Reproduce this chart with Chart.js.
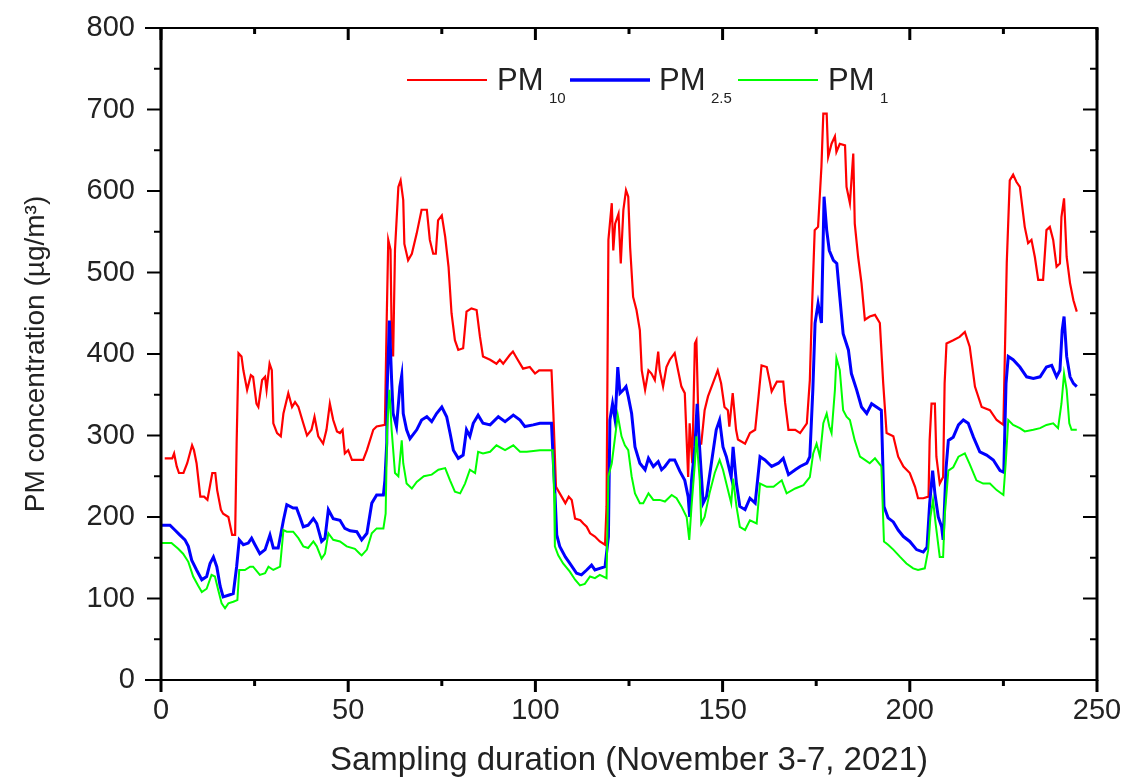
<!DOCTYPE html>
<html lang="en">
<head>
<meta charset="UTF-8">
<title>PM concentration</title>
<script src="https://cdn.jsdelivr.net/npm/chart.js@4.4.0/dist/chart.umd.js"></script>
<style>
    body { margin: 0; background: #fff; }
    #wrap { width: 1131px; height: 781px; }
</style>
</head>
<body>
<div id="wrap"><canvas id="pmChart" width="1131" height="781"></canvas></div>
<script>
// values as [sampling step, concentration]
const pm10 = [[1,272],[3,272],[3.5,278],[4.2,262],[4.8,254],[6,254],[7,266],[8.3,288],[8.8,282],[9.5,266],[10.5,225],[11.5,225],[12.4,221],[13.7,254],[14.5,254],[15,233],[16,209],[16.6,204],[18,200],[19,178],[19.8,178],[20.2,290],[20.7,401],[21.5,397],[22,380],[23,356],[24,374],[24.6,372],[25.5,339],[26,335],[27,368],[27.8,372],[28.2,356],[29,388],[29.6,380],[30,315],[31,303],[32,299],[32.7,327],[34,352],[35,335],[35.8,341],[36.7,335],[38,315],[39,300],[40.2,307],[41,323],[42,299],[43.3,290],[44.2,307],[45.1,339],[46,319],[47,305],[47.8,303],[48.5,307],[49.1,278],[50,282],[51,270],[54,270],[55,282],[56.7,307],[57.6,311],[59.8,313],[60.3,446],[60.7,540],[61.3,528],[61.6,429],[62,397],[62.5,528],[63.4,605],[64,613],[64.7,589],[65,535],[66,515],[67,523],[68.3,548],[69.6,577],[71,577],[71.8,540],[72.7,523],[73.4,523],[74,564],[75,570],[75.9,544],[76.8,507],[77.6,450],[78.5,417],[79.4,405],[80.7,407],[81.6,452],[82.9,456],[84.3,454],[85.2,421],[86,397],[87.9,393],[89.6,388],[90.5,393],[91.4,388],[93.2,399],[94,403],[95,395],[96.7,382],[98.5,384],[99.9,376],[101,380],[104.3,380],[104.8,327],[105.5,237],[106.5,229],[108,217],[108.9,225],[109.7,221],[110.6,198],[112,196],[112.8,192],[113.7,188],[114.6,180],[115.9,176],[117.2,170],[118.6,166],[119,213],[119.5,540],[120.4,585],[120.8,527],[121.3,560],[122.2,572],[122.8,511],[123.5,577],[124.2,601],[124.8,593],[125.3,531],[126.1,470],[127,454],[127.9,429],[128.4,380],[129.3,356],[130.2,380],[131,376],[131.9,368],[132.8,403],[133.2,380],[134.1,360],[135,384],[135.9,393],[137.2,401],[138.1,380],[139,360],[139.9,352],[140.8,249],[141.2,315],[141.9,266],[142.6,413],[143,417],[143.7,290],[144.3,290],[145.2,331],[146.1,348],[147.4,364],[148.7,380],[149.6,364],[150.5,335],[151.4,331],[151.8,311],[152.7,352],[153.6,307],[154.1,295],[156,290],[157.3,303],[158.7,307],[159.6,348],[160.4,386],[161.8,384],[162.7,364],[163.1,354],[164.5,366],[166.2,366],[166.7,340],[167.6,307],[169.4,307],[170.7,303],[172.5,315],[173.3,368],[173.8,446],[174.6,552],[175.5,556],[176.4,630],[176.9,695],[177.8,695],[178.2,642],[179.1,658],[180,667],[180.4,648],[181.3,658],[182.7,656],[183.1,605],[184,585],[184.9,646],[185.3,560],[186.2,519],[187.1,487],[188,442],[189.3,446],[190.7,448],[192,438],[192.9,364],[193.8,303],[195.6,299],[196.9,274],[198.3,262],[200,254],[201.4,237],[202.2,223],[203.6,223],[205,225],[205.3,294],[205.8,339],[206.7,339],[207.1,274],[208,241],[208.9,249],[209.3,364],[209.8,413],[211.6,417],[213.3,421],[214.7,427],[216,409],[217.4,360],[219.2,335],[221.4,331],[223.2,319],[225,313],[225.9,512],[226.7,613],[227.6,620],[228.5,611],[229.4,605],[230.7,556],[231.6,536],[232.5,540],[233.4,519],[234.3,491],[235.6,491],[236.5,552],[237.4,556],[238.3,540],[239.2,507],[240.1,511],[240.5,568],[241.2,591],[241.9,519],[242.8,487],[243.7,466],[244.6,452]];

const pm25 = [[0,190],[2.4,190],[3.7,184],[5,178],[6.4,172],[7.3,164],[8.2,147],[9.5,135],[10.9,123],[12.2,127],[13.1,143],[14,151],[14.9,139],[15.8,115],[16.6,102],[18,104],[19.3,106],[20.2,139],[20.9,172],[22,166],[23.3,168],[24.2,174],[25.1,166],[26.4,155],[27.8,160],[29.1,178],[30,162],[31.3,162],[32.7,196],[33.6,215],[35.3,211],[36.2,211],[37.1,200],[38,188],[39.3,190],[40.7,198],[41.6,192],[42.9,170],[43.8,174],[44.7,209],[46,198],[47.8,196],[49.1,186],[50.5,183],[52.3,182],[53.6,172],[55,180],[56.3,217],[57.6,227],[59.4,227],[59.8,245],[60.3,291],[60.4,356],[61,441],[61.6,368],[62,327],[62.9,311],[63.8,360],[64.3,374],[64.7,327],[65.6,307],[66.5,296],[68.3,307],[69.6,319],[71,323],[72.3,317],[73.6,327],[75,335],[76.3,323],[77.2,303],[78.1,282],[79.4,272],[80.7,276],[81.6,307],[82.5,299],[83.4,315],[84.7,325],[86,315],[87.9,313],[90.1,323],[91.9,317],[94.1,325],[95.9,319],[97.2,311],[99.4,313],[101.2,315],[104.3,315],[104.8,266],[105.2,231],[105.7,178],[106.5,164],[108,151],[109.2,143],[111,131],[112.3,129],[113.7,135],[115,141],[115.9,135],[117.2,137],[118.6,139],[119.5,176],[119.9,319],[120.6,339],[121.3,319],[122,384],[122.6,352],[123.5,356],[124.2,360],[124.8,348],[125.7,327],[126.6,286],[127.9,266],[129.3,258],[130.2,272],[131.5,262],[132.8,268],[133.7,258],[134.6,262],[135.9,270],[137.2,270],[138.6,256],[139.9,245],[140.8,225],[141.2,200],[141.7,245],[142.6,286],[143.2,339],[143.9,282],[144.8,217],[145.7,225],[147,266],[148.3,307],[149.2,319],[150.1,286],[151,274],[152.3,249],[152.8,286],[153.7,241],[154.6,213],[156,209],[157.3,223],[158.7,217],[160,274],[161.3,270],[163.1,262],[164.9,266],[166.2,272],[167.6,252],[169.4,258],[170.7,262],[172.5,266],[173.3,274],[174.1,356],[174.7,438],[175.5,462],[176.4,438],[177.1,593],[177.8,552],[178.5,527],[179.6,515],[180.5,511],[181.3,470],[182.2,425],[183.6,405],[184.4,376],[185.8,356],[187.1,335],[188.5,327],[189.8,339],[191.1,335],[192.4,331],[193.1,213],[194.2,199],[195.6,194],[196.9,184],[198.3,176],[200,170],[201.8,160],[203.6,157],[204.6,163],[205.3,216],[206.1,257],[206.7,229],[207.6,200],[208.5,188],[208.9,172],[209.7,261],[210.3,294],[211.6,298],[213,313],[214.3,319],[215.6,315],[217,298],[218.7,280],[220.5,276],[222.3,270],[224.1,257],[225.1,255],[225.7,364],[226.3,397],[227.6,393],[229.4,384],[231.2,372],[233,370],[234.8,372],[236.5,384],[237.9,386],[239.2,372],[240.1,380],[240.7,429],[241.2,446],[241.9,397],[242.8,372],[243.7,364],[244.6,360]];

const pm1 = [[0,168],[2.8,168],[4.6,161],[5.9,155],[7.3,145],[8.6,127],[9.9,116],[10.9,108],[12.2,112],[13.5,129],[14.4,127],[15.3,110],[16.2,94],[17.1,88],[18,94],[19.3,96],[20.4,98],[20.9,135],[22.4,135],[23.8,139],[24.6,139],[26.4,129],[27.8,131],[28.7,139],[30,135],[31.8,139],[32.7,184],[33.6,182],[35.3,182],[36.7,174],[38,164],[39.3,162],[40.7,170],[41.6,164],[42.9,149],[43.8,155],[44.7,180],[46,172],[47.8,170],[49.6,164],[51.8,161],[53.1,155],[53.6,153],[55,160],[56.3,180],[57.6,186],[59.4,186],[60,204],[60.4,307],[61,356],[61.6,307],[62.5,254],[63.4,250],[64.3,294],[64.7,266],[65.6,241],[67,235],[68.3,243],[70.2,250],[72.3,252],[74.1,258],[75.9,260],[77.2,245],[78.5,231],[79.9,229],[81.2,241],[82.5,258],[83.9,254],[84.7,280],[86,278],[87.9,280],[89.6,288],[91.9,282],[94.1,288],[95.9,280],[97.7,280],[101.2,282],[104.6,282],[105,229],[105.2,164],[106.1,153],[107.4,143],[109.2,133],[110.6,123],[111.9,116],[113.2,118],[114.6,127],[115.9,125],[117.2,129],[119,125],[119.5,250],[120.4,266],[121.3,299],[122,325],[123,299],[123.9,288],[124.8,282],[125.7,250],[126.6,229],[127.9,217],[128.8,217],[130.2,229],[131.5,221],[133.2,221],[134.6,219],[136.4,227],[137.7,223],[139,213],[140.4,200],[141.1,172],[141.7,213],[142.6,266],[143,299],[143.9,245],[144.3,192],[145.2,200],[146.5,229],[147.9,254],[149.2,270],[150.1,258],[151,241],[152.3,217],[152.8,247],[153.7,213],[154.6,188],[156,184],[157.3,196],[159.1,192],[160,241],[161.8,237],[163.6,237],[165.8,245],[167.1,229],[169.4,235],[171.6,239],[173.3,249],[174.2,278],[175.1,290],[176,274],[176.9,315],[177.8,327],[178.5,311],[179.1,303],[180,356],[180.4,395],[181.3,380],[182.2,331],[183.1,323],[184,319],[185.3,294],[186.7,274],[188,270],[189.3,266],[190.7,272],[192.4,262],[193.1,170],[194.2,166],[195.6,160],[197.4,151],[199.1,143],[200.9,137],[202.2,135],[204,137],[204.9,159],[205.5,200],[206.2,221],[206.9,192],[208,151],[208.9,151],[209.3,200],[210.3,257],[211.6,261],[213,274],[214.7,278],[216,265],[217.8,245],[219.6,241],[221.4,241],[223.2,233],[225,227],[225.6,265],[226.3,319],[227.6,313],[229.4,309],[230.7,305],[233,307],[234.8,309],[236.5,313],[238.3,315],[239.6,309],[240.5,339],[241.2,376],[241.9,356],[242.6,315],[243.2,307],[244.6,307]];

const seriesNames = ['PM10', 'PM2.5', 'PM1'];
const xTicks = [0, 50, 100, 150, 200, 250];
const yTicks = [0, 100, 200, 300, 400, 500, 600, 700, 800];

const FONT = "'Liberation Sans', Arial, sans-serif";
const TEXT = '#222';

const toXY = arr => arr.map(p => ({x: p[0], y: p[1]}));

// axis frame with Origin-style ticks: outward on left/bottom, inward on top/right
const frameTicks = {
    id: 'frameTicks',
    afterDraw(chart) {
        const {ctx, chartArea: a, scales: {x, y}} = chart;
        ctx.save();
        ctx.strokeStyle = '#000';
        const seg = (x0, y0, x1, y1, w) => {
            ctx.lineWidth = w;
            ctx.beginPath(); ctx.moveTo(x0, y0); ctx.lineTo(x1, y1); ctx.stroke();
        };
        seg(a.left, a.top - 1, a.left, a.bottom + 1, 3);
        seg(a.right, a.top - 1, a.right, a.bottom + 1, 3);
        seg(a.left - 16, a.bottom, a.right, a.bottom, 2);
        seg(a.left - 16, a.top, a.right, a.top, 2);
        for (let v = 0; v <= 250; v += 25) {
            const px = x.getPixelForValue(v);
            const major = v % 50 === 0;
            seg(px, a.bottom, px, a.bottom + (major ? 12 : 6), 3);
            seg(px, a.top, px, a.top + (major ? 12 : 6), 3);
        }
        for (let v = 0; v <= 800; v += 50) {
            const py = y.getPixelForValue(v);
            const major = v % 100 === 0;
            seg(a.left, py, a.left - (major ? 14 : 7), py, 2);
            seg(a.right, py, a.right - (major ? 14 : 7), py, 2);
        }
        ctx.restore();
    }
};

// legend drawn inside the plot, with subscripts
const legendItems = [
    {main: 'PM', sub: '10', color: '#ff0000', lw: 2, x0: 407, x1: 487, tx: 497, sx: 549},
    {main: 'PM', sub: '2.5', color: '#0000ff', lw: 3.5, x0: 570, x1: 650, tx: 659, sx: 711},
    {main: 'PM', sub: '1', color: '#00ff00', lw: 2, x0: 738, x1: 818, tx: 828, sx: 880}
];
const insideLegend = {
    id: 'insideLegend',
    afterDraw(chart) {
        const ctx = chart.ctx;
        ctx.save();
        legendItems.forEach(it => {
            ctx.strokeStyle = it.color;
            ctx.lineWidth = it.lw;
            ctx.beginPath(); ctx.moveTo(it.x0, 80); ctx.lineTo(it.x1, 80); ctx.stroke();
            ctx.fillStyle = TEXT;
            ctx.textBaseline = 'alphabetic';
            ctx.font = '31px ' + FONT;
            ctx.fillText(it.main, it.tx, 90);
            ctx.font = '15px ' + FONT;
            ctx.fillText(it.sub, it.sx, 103);
        });
        ctx.restore();
    }
};

const ctx = document.getElementById('pmChart').getContext('2d');
new Chart(ctx, {
    type: 'line',
    data: {
        datasets: [
            {label: seriesNames[0], data: toXY(pm10), borderColor: '#ff0000', borderWidth: 2.2, order: 2},
            {label: seriesNames[1], data: toXY(pm25), borderColor: '#0000ff', borderWidth: 3, order: 1},
            {label: seriesNames[2], data: toXY(pm1), borderColor: '#00ff00', borderWidth: 2, order: 0}
        ]
    },
    options: {
        responsive: false,
        animation: false,
        devicePixelRatio: 1,
        elements: {
            point: {radius: 0},
            line: {tension: 0, fill: false}
        },
        layout: {padding: {top: 28, right: 34, left: 0, bottom: 0}},
        plugins: {
            legend: {display: false},
            tooltip: {enabled: false}
        },
        scales: {
            x: {
                type: 'linear',
                min: 0,
                max: 250,
                afterBuildTicks: s => { s.ticks = xTicks.map(v => ({value: v})); },
                afterFit: s => { s.height = 101; s.paddingLeft = 0; s.paddingRight = 0; },
                grid: {display: false, drawTicks: false},
                border: {display: false},
                ticks: {
                    padding: 14,
                    color: TEXT,
                    font: {family: FONT, size: 29},
                    maxRotation: 0
                },
                title: {
                    display: true,
                    text: 'Sampling duration (November 3-7, 2021)',
                    color: TEXT,
                    font: {family: FONT, size: 33},
                    padding: {top: 0, bottom: 0}
                }
            },
            y: {
                min: 0,
                max: 800,
                afterBuildTicks: s => { s.ticks = yTicks.map(v => ({value: v})); },
                afterFit: s => { s.width = 161; s.paddingTop = 0; s.paddingBottom = 0; },
                grid: {display: false, drawTicks: false},
                border: {display: false},
                ticks: {
                    padding: 26,
                    color: TEXT,
                    font: {family: FONT, size: 29}
                },
                title: {
                    display: true,
                    text: 'PM concentration (\u00b5g/m\u00b3)',
                    color: TEXT,
                    font: {family: FONT, size: 28},
                    padding: {top: 19, bottom: 0}
                }
            }
        }
    },
    plugins: [frameTicks, insideLegend]
});
</script>
</body>
</html>
